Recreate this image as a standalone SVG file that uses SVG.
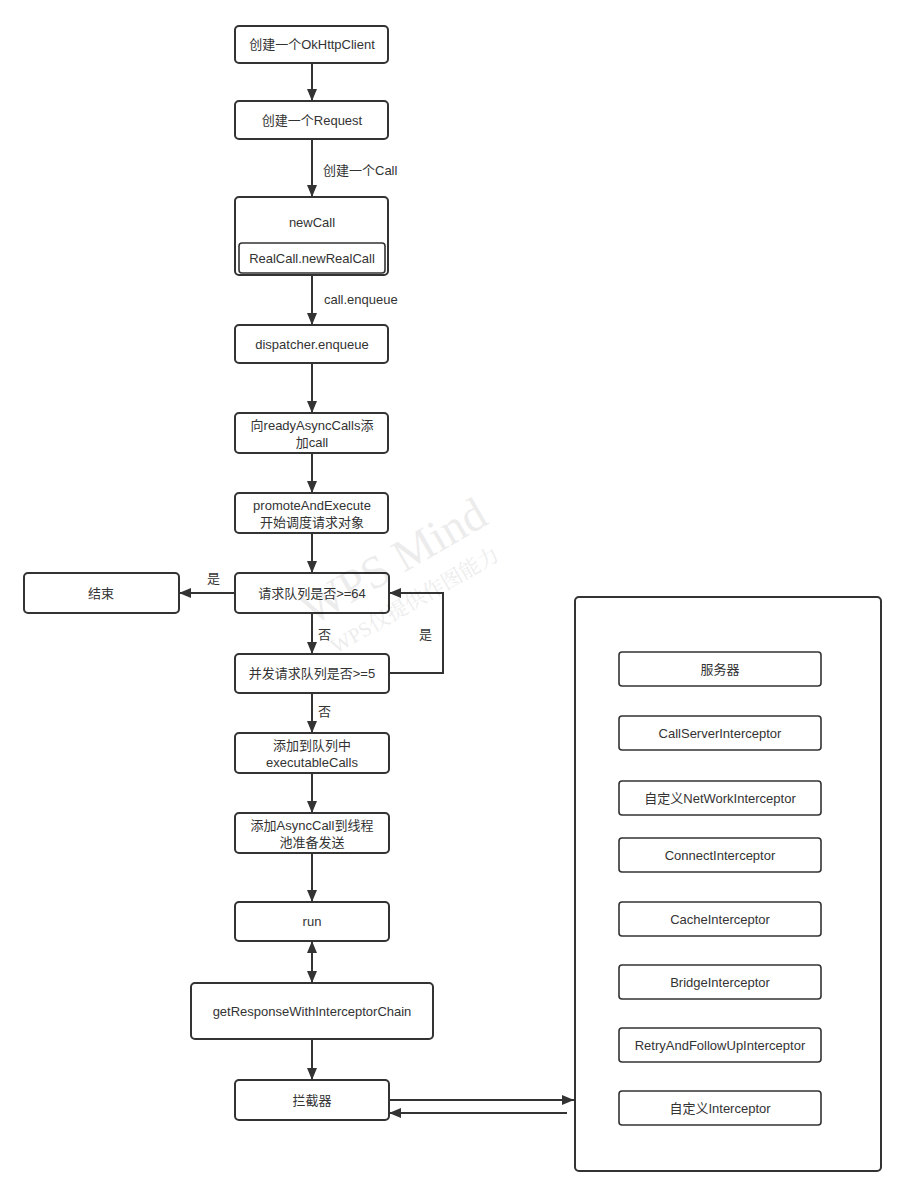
<svg xmlns="http://www.w3.org/2000/svg" width="906" height="1197" viewBox="0 0 906 1197">
<style>
.b{fill:#fff;stroke:#333;stroke-width:2}
.i{fill:#fff;stroke:#333;stroke-width:1.6}
.t{font-family:"Liberation Sans","Noto Sans CJK SC",sans-serif;font-size:13px;fill:#333;text-anchor:middle}
.l{font-family:"Liberation Sans","Noto Sans CJK SC",sans-serif;font-size:13px;fill:#333}
.c{fill:none;stroke:#333;stroke-width:2}
.w{font-family:"Liberation Serif","Noto Serif CJK SC","Noto Sans CJK SC",serif;fill:#000;opacity:0.07}
</style>
<defs>
<marker id="a" viewBox="0 0 12 10" refX="12" refY="5" markerWidth="12" markerHeight="10" markerUnits="userSpaceOnUse" orient="auto-start-reverse">
<path d="M0,0 L12,5 L0,10 z" fill="#333"/>
</marker>
</defs>
<rect width="906" height="1197" fill="#fff"/>
<g id="connectors">
<path class="c" d="M312,63 V101" marker-end="url(#a)"/>
<path class="c" d="M312,139 V197" marker-end="url(#a)"/>
<path class="c" d="M312,275 V325" marker-end="url(#a)"/>
<path class="c" d="M312,363 V413" marker-end="url(#a)"/>
<path class="c" d="M312,453 V493" marker-end="url(#a)"/>
<path class="c" d="M312,533 V573" marker-end="url(#a)"/>
<path class="c" d="M235,593 H179" marker-end="url(#a)"/>
<path class="c" d="M312,613 V654" marker-end="url(#a)"/>
<path class="c" d="M389,673 H443 V593 H389" marker-end="url(#a)"/>
<path class="c" d="M312,693 V733" marker-end="url(#a)"/>
<path class="c" d="M312,773 V813" marker-end="url(#a)"/>
<path class="c" d="M312,853 V902" marker-end="url(#a)"/>
<path class="c" d="M312,941 V983" marker-start="url(#a)" marker-end="url(#a)"/>
<path class="c" d="M312,1039 V1080" marker-end="url(#a)"/>
<path class="c" d="M389,1100 H574" marker-end="url(#a)"/>
<path class="c" d="M567,1113 H389" marker-end="url(#a)"/>
<text class="l" x="323" y="175">创建一个Call</text>
<text class="l" x="324" y="304">call.enqueue</text>
<text class="l" x="207" y="583">是</text>
<text class="l" x="419" y="639">是</text>
<text class="l" x="318" y="639">否</text>
<text class="l" x="318" y="716">否</text>
</g>
<g id="n1"><rect class="b" x="235" y="26" width="153" height="37" rx="4"/><text class="t" x="312" y="49">创建一个OkHttpClient</text></g>
<g id="n2"><rect class="b" x="235" y="101" width="153" height="38" rx="4"/><text class="t" x="312" y="125">创建一个Request</text></g>
<g id="n3"><rect class="b" x="235" y="197" width="153" height="78" rx="4"/><text class="t" x="312" y="227">newCall</text>
<g id="n3a"><rect class="i" x="239" y="243" width="146" height="30" rx="3"/><text class="t" x="312" y="263">RealCall.newRealCall</text></g></g>
<g id="n4"><rect class="b" x="235" y="325" width="153" height="38" rx="4"/><text class="t" x="312" y="349">dispatcher.enqueue</text></g>
<g id="n5"><rect class="b" x="235" y="413" width="153" height="40" rx="4"/><text class="t" x="312" y="430">向readyAsyncCalls添</text><text class="t" x="312" y="447">加call</text></g>
<g id="n6"><rect class="b" x="235" y="493" width="153" height="40" rx="4"/><text class="t" x="312" y="510">promoteAndExecute</text><text class="t" x="312" y="527">开始调度请求对象</text></g>
<g id="n7"><rect class="b" x="235" y="573" width="154" height="40" rx="4"/><text class="t" x="312" y="598">请求队列是否&gt;=64</text></g>
<g id="n8"><rect class="b" x="24" y="573" width="155" height="40" rx="4"/><text class="t" x="101" y="598">结束</text></g>
<g id="n9"><rect class="b" x="235" y="654" width="154" height="39" rx="4"/><text class="t" x="312" y="678">并发请求队列是否&gt;=5</text></g>
<g id="n10"><rect class="b" x="235" y="733" width="154" height="40" rx="4"/><text class="t" x="312" y="750">添加到队列中</text><text class="t" x="312" y="767">executableCalls</text></g>
<g id="n11"><rect class="b" x="235" y="813" width="154" height="40" rx="4"/><text class="t" x="312" y="830">添加AsyncCall到线程</text><text class="t" x="312" y="847">池准备发送</text></g>
<g id="n12"><rect class="b" x="235" y="902" width="154" height="39" rx="4"/><text class="t" x="312" y="926">run</text></g>
<g id="n13"><rect class="b" x="191" y="983" width="242" height="56" rx="4"/><text class="t" x="312" y="1016">getResponseWithInterceptorChain</text></g>
<g id="n14"><rect class="b" x="235" y="1080" width="154" height="40" rx="4"/><text class="t" x="312" y="1105">拦截器</text></g>
<g id="panel"><rect class="b" x="575" y="597" width="306" height="574" rx="4"/></g>
<g id="s1"><rect class="i" x="619" y="652" width="202" height="34" rx="3"/><text class="t" x="720" y="674">服务器</text></g>
<g id="s2"><rect class="i" x="619" y="716" width="202" height="34" rx="3"/><text class="t" x="720" y="738">CallServerInterceptor</text></g>
<g id="s3"><rect class="i" x="619" y="781" width="202" height="34" rx="3"/><text class="t" x="720" y="803">自定义NetWorkInterceptor</text></g>
<g id="s4"><rect class="i" x="619" y="838" width="202" height="34" rx="3"/><text class="t" x="720" y="860">ConnectInterceptor</text></g>
<g id="s5"><rect class="i" x="619" y="902" width="202" height="34" rx="3"/><text class="t" x="720" y="924">CacheInterceptor</text></g>
<g id="s6"><rect class="i" x="619" y="965" width="202" height="34" rx="3"/><text class="t" x="720" y="987">BridgeInterceptor</text></g>
<g id="s7"><rect class="i" x="619" y="1028" width="202" height="34" rx="3"/><text class="t" x="720" y="1050">RetryAndFollowUpInterceptor</text></g>
<g id="s8"><rect class="i" x="619" y="1091" width="202" height="34" rx="3"/><text class="t" x="720" y="1113">自定义Interceptor</text></g>
<g id="watermark">
<text class="w" x="0" y="0" font-size="46" transform="translate(312,626) rotate(-30)">WPS Mind</text>
<text class="w" x="0" y="0" font-size="21" transform="translate(336,654) rotate(-30)">WPS仅提供作图能力</text>
</g>
</svg>
